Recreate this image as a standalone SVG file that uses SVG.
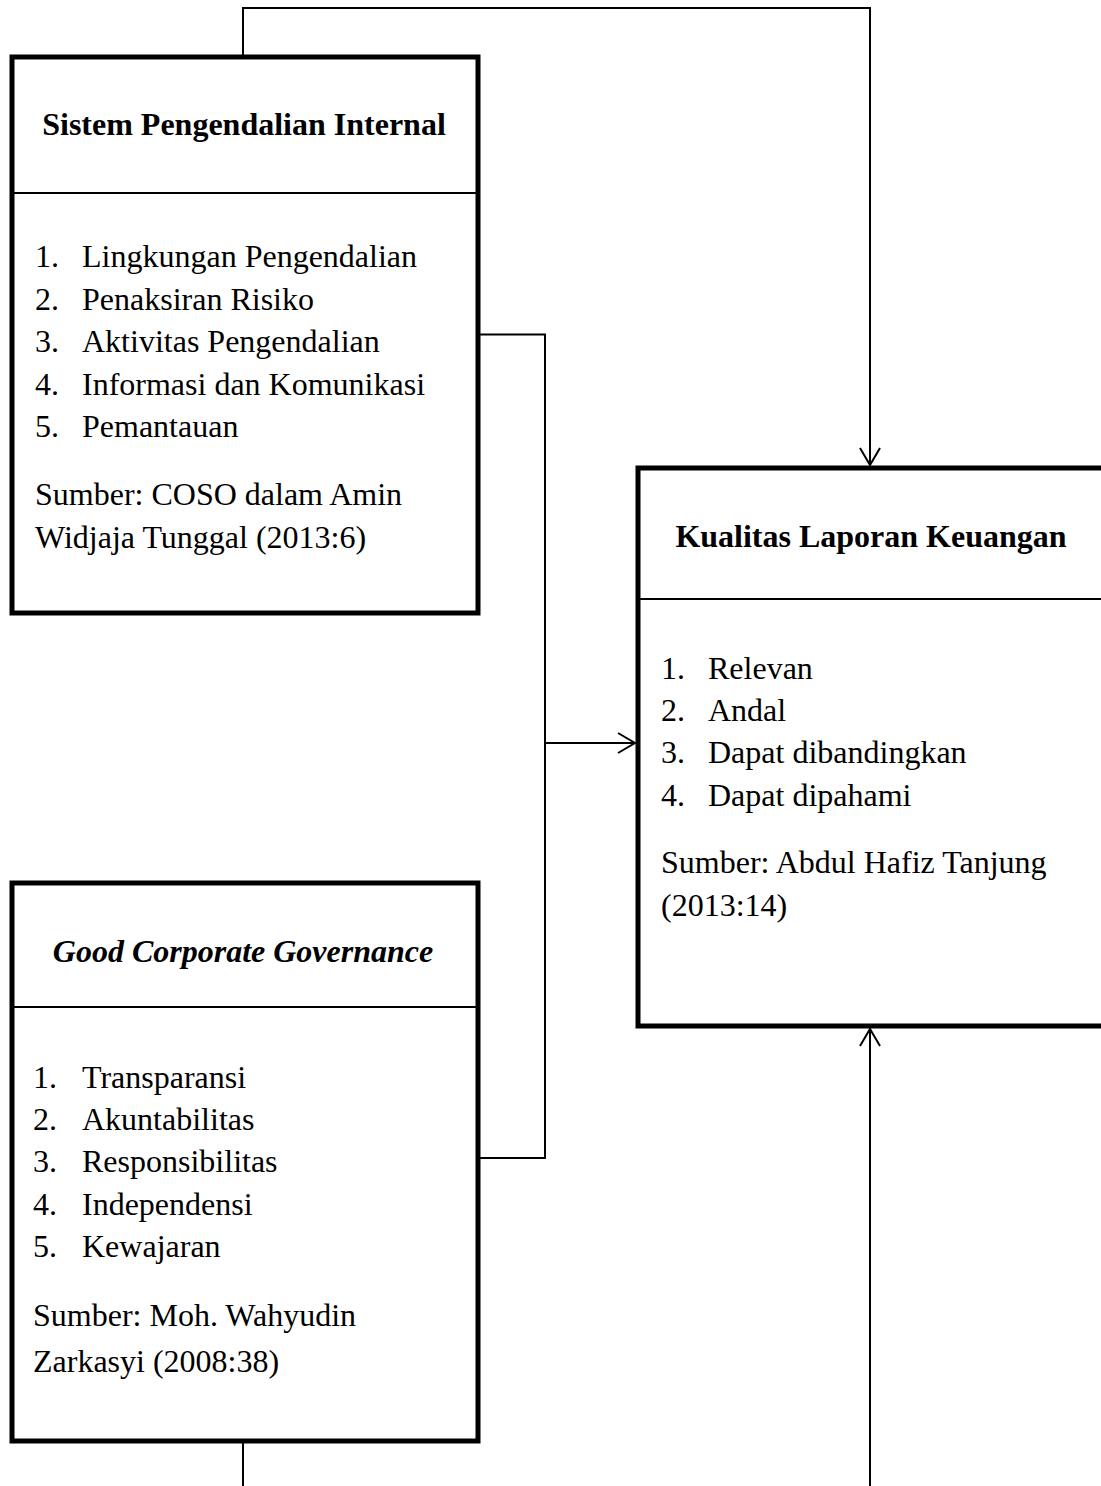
<svg xmlns="http://www.w3.org/2000/svg" width="1101" height="1486" viewBox="0 0 1101 1486">
  <style>
    .box { fill: #ffffff; stroke: #000000; stroke-width: 5; }
    .div { stroke: #000000; stroke-width: 2; }
    .conn { fill: none; stroke: #000000; stroke-width: 2; }
    .t { font-family: "Liberation Serif", "Times New Roman", serif; font-size: 32px; fill: #000000; }
    .title { font-weight: bold; text-anchor: middle; }
    .it { font-style: italic; }
  </style>
  <defs>
    <marker id="arr" markerUnits="userSpaceOnUse" markerWidth="40" markerHeight="40" refX="0" refY="0" orient="auto" viewBox="-20 -20 40 40" overflow="visible">
      <path d="M -17 -10 L 0 0 L -17 10" fill="none" stroke="#000000" stroke-width="2"/>
    </marker>
  </defs>
  <rect width="1101" height="1486" fill="#ffffff"/>

  <g id="connectors">
    <path class="conn" d="M 243 57 L 243 8 L 870 8 L 870 465" marker-end="url(#arr)"/>
    <path class="conn" d="M 478 334.5 L 545 334.5 L 545 1158 L 478 1158"/>
    <path class="conn" d="M 545 743 L 635 743" marker-end="url(#arr)"/>
    <path class="conn" d="M 243 1441 L 243 1486"/>
    <path class="conn" d="M 870 1486 L 870 1029" marker-end="url(#arr)"/>
  </g>

  <g id="node-spi">
    <rect class="box" x="12" y="57" width="466" height="556"/>
    <line class="div" x1="12" y1="193" x2="478" y2="193"/>
    <text class="t title" x="244" y="135">Sistem Pengendalian Internal</text>
    <text class="t" x="35" y="267">1.</text><text class="t" x="82" y="267">Lingkungan Pengendalian</text>
    <text class="t" x="35" y="309.5">2.</text><text class="t" x="82" y="309.5">Penaksiran Risiko</text>
    <text class="t" x="35" y="352">3.</text><text class="t" x="82" y="352">Aktivitas Pengendalian</text>
    <text class="t" x="35" y="394.5">4.</text><text class="t" x="82" y="394.5">Informasi dan Komunikasi</text>
    <text class="t" x="35" y="437">5.</text><text class="t" x="82" y="437">Pemantauan</text>
    <text class="t" x="35" y="505">Sumber: COSO dalam Amin</text>
    <text class="t" x="35" y="548">Widjaja Tunggal (2013:6)</text>
  </g>

  <g id="node-klk">
    <rect class="box" x="638" y="468" width="480" height="558"/>
    <line class="div" x1="638" y1="599" x2="1101" y2="599"/>
    <text class="t title" x="871" y="547">Kualitas Laporan Keuangan</text>
    <text class="t" x="661" y="679">1.</text><text class="t" x="708" y="679">Relevan</text>
    <text class="t" x="661" y="721">2.</text><text class="t" x="708" y="721">Andal</text>
    <text class="t" x="661" y="763">3.</text><text class="t" x="708" y="763">Dapat dibandingkan</text>
    <text class="t" x="661" y="805.5">4.</text><text class="t" x="708" y="805.5">Dapat dipahami</text>
    <text class="t" x="661" y="873">Sumber: Abdul Hafiz Tanjung</text>
    <text class="t" x="661" y="916">(2013:14)</text>
  </g>

  <g id="node-gcg">
    <rect class="box" x="12" y="883" width="466" height="558"/>
    <line class="div" x1="12" y1="1007" x2="478" y2="1007"/>
    <text class="t title it" x="243" y="962">Good Corporate Governance</text>
    <text class="t" x="33" y="1088">1.</text><text class="t" x="82" y="1088">Transparansi</text>
    <text class="t" x="33" y="1130">2.</text><text class="t" x="82" y="1130">Akuntabilitas</text>
    <text class="t" x="33" y="1172">3.</text><text class="t" x="82" y="1172">Responsibilitas</text>
    <text class="t" x="33" y="1214.5">4.</text><text class="t" x="82" y="1214.5">Independensi</text>
    <text class="t" x="33" y="1257">5.</text><text class="t" x="82" y="1257">Kewajaran</text>
    <text class="t" x="33" y="1326">Sumber: Moh. Wahyudin</text>
    <text class="t" x="33" y="1372">Zarkasyi (2008:38)</text>
  </g>
</svg>
